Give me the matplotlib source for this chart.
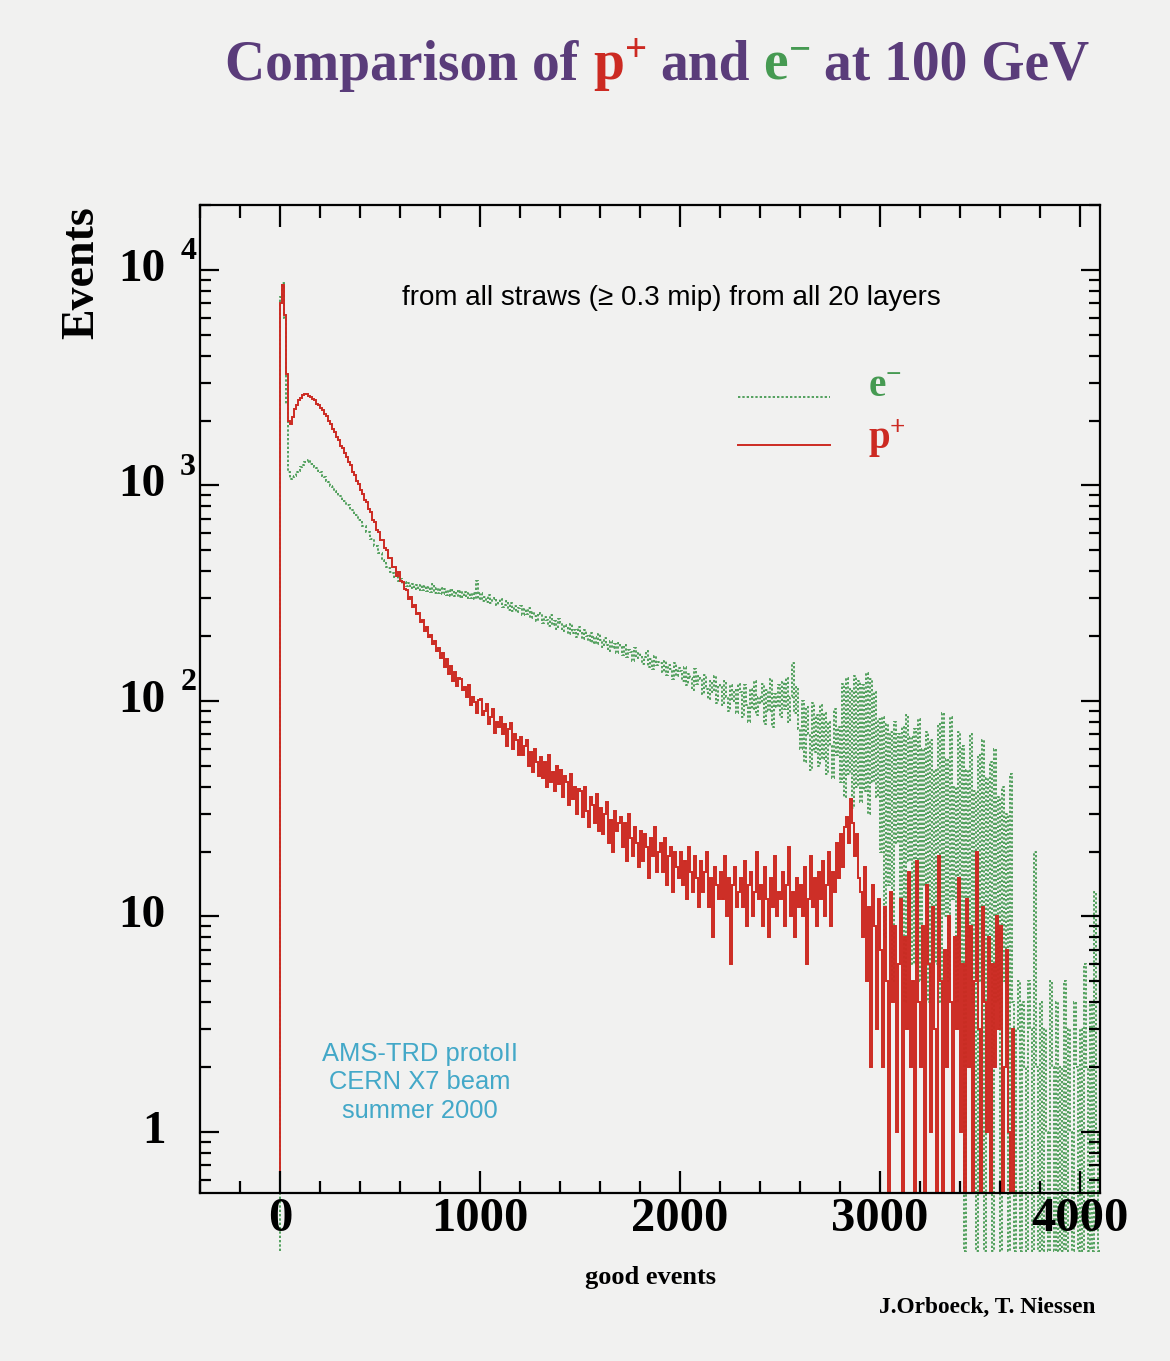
import numpy as np
import matplotlib
matplotlib.use('Agg')
import matplotlib.pyplot as plt
import matplotlib.ticker as tck
from matplotlib.offsetbox import TextArea, HPacker, AnchoredOffsetbox

# histogram binning (good events)
bin_start = 0
bin_width = 10

# p+ counts per bin (one row = 100 good events)
protones = [
    7000, 8500, 6200, 3300, 2000, 1930, 2080, 2260, 2370, 2490,
    2550, 2630, 2650, 2660, 2600, 2580, 2510, 2480, 2400, 2370,
    2290, 2240, 2150, 2100, 1990, 1930, 1830, 1770, 1680, 1620,
    1530, 1490, 1410, 1360, 1280, 1240, 1160, 1120, 1050, 1020,
    950, 910, 860, 840, 780, 750, 690, 680, 620, 610,
    560, 560, 510, 500, 460, 460, 420, 420, 380, 395,
    360, 358, 330, 328, 296, 302, 274, 278, 254, 256,
    232, 238, 212, 220, 198, 203, 183, 189, 170, 176,
    158, 166, 144, 156, 134, 145, 124, 136, 117, 128,
    126, 112, 116, 104, 118, 96, 104, 99, 88, 101,
    102, 86, 90, 97, 78, 84, 92, 71, 80, 76,
    84, 70, 78, 62, 74, 79, 60, 70, 66, 56,
    68, 56, 62, 66, 50, 58, 47, 60, 52, 45,
    55, 44, 52, 40, 56, 42, 47, 38, 50, 41,
    48, 36, 45, 42, 33, 46, 35, 40, 30, 39,
    38, 29, 40, 31, 26, 36, 33, 27, 37, 25,
    32, 24, 30, 34, 22, 28, 20, 31, 25, 27,
    29, 21, 27, 18, 30, 23, 19, 26, 22, 17,
    25, 18, 24, 21, 15, 23, 19, 26, 16, 20,
    22, 16, 23, 14, 19, 21, 13, 20, 17, 15,
    20, 14, 18, 12, 21, 16, 13, 19, 15, 11,
    18, 13, 16, 20, 11, 15, 8, 17, 14, 12,
    16, 12, 19, 10, 15, 6, 14, 17, 11, 13,
    15, 11, 18, 9, 14, 16, 10, 13, 20, 12,
    14, 9, 17, 12, 8, 15, 11, 19, 10, 13,
    12, 16, 9, 14, 21, 10, 13, 8, 15, 11,
    14, 10, 17, 6, 12, 19, 11, 15, 9, 16,
    12, 18, 10, 14, 20, 9, 16, 13, 22, 15,
    24, 17, 26, 29, 22, 35, 27, 19, 24, 15,
    13, 8, 17, 5, 11, 2, 14, 9, 3, 12,
    7, 2, 11, 5, 0, 13, 4, 9, 1, 6,
    12, 0, 8, 3, 16, 2, 5, 0, 18, 4,
    2, 9, 0, 14, 6, 1, 11, 3, 0, 19,
    5, 0, 7, 2, 10, 4, 0, 8, 3, 15,
    1, 6, 0, 12, 2, 9, 0, 5, 20, 3,
    0, 11, 4, 1, 8, 0, 6, 2, 10, 3,
    9, 0, 2, 7, 1, 0, 3, 0, 0, 0,
    0, 0, 0, 0, 0, 0, 0, 0, 0, 0,
    0, 0, 0, 0, 0, 0, 0, 0, 0, 0,
    0, 0, 0, 0, 0, 0, 0, 0, 0, 0,
    0, 0, 0, 0, 0, 0, 0, 0, 0, 0,
]

# e- counts per bin
electrones = [
    7500, 8700, 6000, 2400, 1150, 1070, 1100, 1110, 1160, 1170,
    1220, 1240, 1290, 1280, 1310, 1260, 1260, 1220, 1210, 1170,
    1160, 1110, 1100, 1050, 1040, 990, 985, 940, 935, 890,
    890, 850, 850, 810, 810, 770, 770, 730, 730, 690,
    690, 650, 650, 605, 605, 565, 565, 525, 525, 485,
    485, 450, 448, 418, 416, 396, 394, 376, 376, 360,
    368, 350, 358, 340, 352, 334, 348, 330, 344, 328,
    344, 326, 340, 322, 338, 320, 350, 318, 336, 316,
    334, 312, 330, 310, 328, 308, 326, 306, 324, 304,
    322, 302, 320, 300, 318, 299, 316, 298, 360, 296,
    318, 292, 304, 288, 310, 284, 296, 300, 280, 290,
    296, 272, 280, 290, 264, 284, 262, 276, 258, 270,
    276, 250, 266, 254, 270, 242, 258, 248, 236, 256,
    254, 230, 246, 238, 222, 250, 226, 234, 216, 240,
    230, 212, 226, 218, 204, 228, 206, 214, 198, 220,
    210, 194, 214, 200, 190, 206, 186, 198, 184, 204,
    192, 178, 196, 182, 170, 190, 176, 184, 166, 186,
    178, 164, 182, 160, 172, 168, 154, 176, 158, 166,
    164, 148, 160, 170, 144, 156, 140, 162, 146, 152,
    150, 136, 154, 132, 146, 140, 126, 150, 130, 142,
    138, 124, 144, 118, 134, 128, 112, 140, 120, 130,
    126, 108, 132, 114, 102, 124, 110, 130, 98, 118,
    116, 96, 124, 104, 90, 118, 100, 112, 88, 120,
    110, 84, 118, 96, 80, 114, 92, 124, 86, 104,
    98, 120, 78, 112, 90, 126, 76, 108, 94, 118,
    84, 122, 92, 128, 80, 104, 150, 88, 116, 74,
    60, 100, 52, 94, 70, 48, 98, 58, 86, 50,
    96, 54, 88, 46, 80, 62, 44, 92, 56, 76,
    42, 120, 36, 128, 46, 114, 32, 130, 40, 124,
    34, 118, 38, 135, 30, 126, 42, 110, 36, 82,
    20, 84, 8, 78, 14, 72, 5, 80, 22, 70,
    12, 76, 4, 86, 18, 68, 6, 74, 10, 82,
    5, 60, 14, 72, 4, 66, 9, 48, 6, 78,
    4, 88, 10, 54, 5, 84, 12, 40, 4, 72,
    6, 62, 0, 48, 8, 70, 4, 38, 0, 56,
    5, 66, 0, 44, 6, 52, 0, 60, 4, 36,
    0, 40, 5, 30, 0, 46, 4, 0, 3, 5,
    0, 4, 2, 0, 5, 3, 0, 20, 2, 0,
    4, 0, 3, 1, 0, 5, 2, 0, 4, 0,
    2, 0, 5, 0, 3, 1, 0, 4, 2, 0,
    3, 0, 6, 2, 0, 4, 0, 13, 1, 0,
]

x_ticks = [0, 1000, 2000, 3000, 4000]
x_tick_labels = ['0', '1000', '2000', '3000', '4000']
y_decades = [0, 1, 2, 3, 4]

col_p = '#cc2a22'
col_e = '#469a52'
col_title = '#5a3c7a'
col_cyan = '#43a8c8'
fondo = '#f1f1f0'

plt.rcParams['mathtext.fontset'] = 'custom'
plt.rcParams['mathtext.rm'] = 'Liberation Serif:bold'
plt.rcParams['mathtext.bf'] = 'Liberation Serif:bold'
plt.rcParams['mathtext.it'] = 'Liberation Serif:bold'
serif = dict(family='Liberation Serif', weight='bold')

fig = plt.figure(figsize=(11.7, 13.61), dpi=100, facecolor=fondo)
ax = fig.add_axes([0.1709, 0.1234, 0.7692, 0.7259])
ax.set_facecolor(fondo)

y_min, y_max = 0.52, 2.0e4
e_floor = 0.28   # e- zero bins hang below the frame like in the scan

edges = bin_start + bin_width * np.arange(len(protones) + 1)
p = np.array(protones, dtype=float)
e = np.array(electrones, dtype=float)

ax.stairs(np.where(e > 0, e, e_floor), edges, baseline=e_floor,
          color=col_e, lw=1.3, ls=(0, (1.3, 1.1)), clip_on=False)
ax.stairs(np.where(p > 0, p, y_min), edges, baseline=y_min,
          color=col_p, lw=1.4)

ax.set_yscale('log')
ax.set_xlim(-400, 4100)
ax.set_ylim(y_min, y_max)

# axes and ticks
for s in ax.spines.values():
    s.set_linewidth(1.6)
ax.set_xticks(x_ticks)
ax.set_xticklabels(x_tick_labels, fontsize=35, **serif)
ax.xaxis.set_minor_locator(tck.MultipleLocator(200))
ax.tick_params(axis='x', which='both', direction='in', top=True, bottom=True, width=1.6, pad=3)
ax.tick_params(axis='x', which='major', length=16)
ax.tick_params(axis='x', which='minor', length=9)
ax.yaxis.set_major_locator(tck.LogLocator(base=10))
ax.yaxis.set_minor_locator(tck.LogLocator(base=10, subs=np.arange(2, 10)))
ax.yaxis.set_minor_formatter(tck.NullFormatter())
ax.tick_params(axis='y', which='both', direction='in', left=True, right=True,
               labelleft=False, width=1.6)
ax.tick_params(axis='y', which='major', length=14)
ax.tick_params(axis='y', which='minor', length=8)

# y labels written like the original: "10" and a detached exponent
ytr = ax.get_yaxis_transform()
for k in y_decades:
    base = '1' if k == 0 else '10'
    ax.text(-0.038, 10 ** k, base, transform=ytr, ha='right', va='center',
            fontsize=34, **serif)
    if k >= 2:
        ax.annotate(str(k), xy=(-0.022, 10 ** k), xycoords=ytr,
                    xytext=(0, 13), textcoords='offset points',
                    ha='left', va='center', fontsize=23, **serif)

# legend drawn by hand
ax.plot([0.598, 0.70], [0.806, 0.806], transform=ax.transAxes,
        color=col_e, lw=1.3, ls=(0, (1.3, 1.1)))
ax.plot([0.598, 0.70], [0.757, 0.757], transform=ax.transAxes,
        color=col_p, lw=1.4)
ax.text(0.742, 0.815, r'e$^{-}$', transform=ax.transAxes, color=col_e,
        fontsize=28, ha='left', va='center', **serif)
ax.text(0.742, 0.763, r'p$^{+}$', transform=ax.transAxes, color=col_p,
        fontsize=28, ha='left', va='center', **serif)

ax.text(0.524, 0.906, 'from all straws (\u2265 0.3 mip) from all 20 layers',
        transform=ax.transAxes, ha='center', va='center', fontsize=20,
        family=['Liberation Sans', 'DejaVu Sans'])
ax.text(0.244, 0.112, 'AMS-TRD protoII\nCERN X7 beam\nsummer 2000',
        transform=ax.transAxes, ha='center', va='center', fontsize=18.4,
        color=col_cyan, linespacing=1.25, family='Liberation Sans')

fig.text(0.070, 0.800, 'Events', rotation=90, ha='center', va='center',
         fontsize=33, **serif)
fig.text(0.5556, 0.061, 'good events', ha='center', va='center', fontsize=19, **serif)
fig.text(0.936, 0.039, 'J.Orboeck, T. Niessen', ha='right', va='center',
         fontsize=16.8, **serif)

# multicoloured title
piezas = [('Comparison of', col_title), (r'p$^{+}$', col_p), ('and', col_title),
          (r'e$^{-}$', col_e), ('at 100 GeV', col_title)]
cajas = [TextArea(t, textprops=dict(color=c, fontsize=40, **serif)) for t, c in piezas]
titulo = HPacker(children=cajas, align='baseline', pad=0, sep=10)
fig.add_artist(AnchoredOffsetbox(loc='center', child=titulo, frameon=False,
                                 bbox_to_anchor=(0.562, 0.952),
                                 bbox_transform=fig.transFigure))

fig.savefig('out.png', dpi=100, facecolor=fondo)
